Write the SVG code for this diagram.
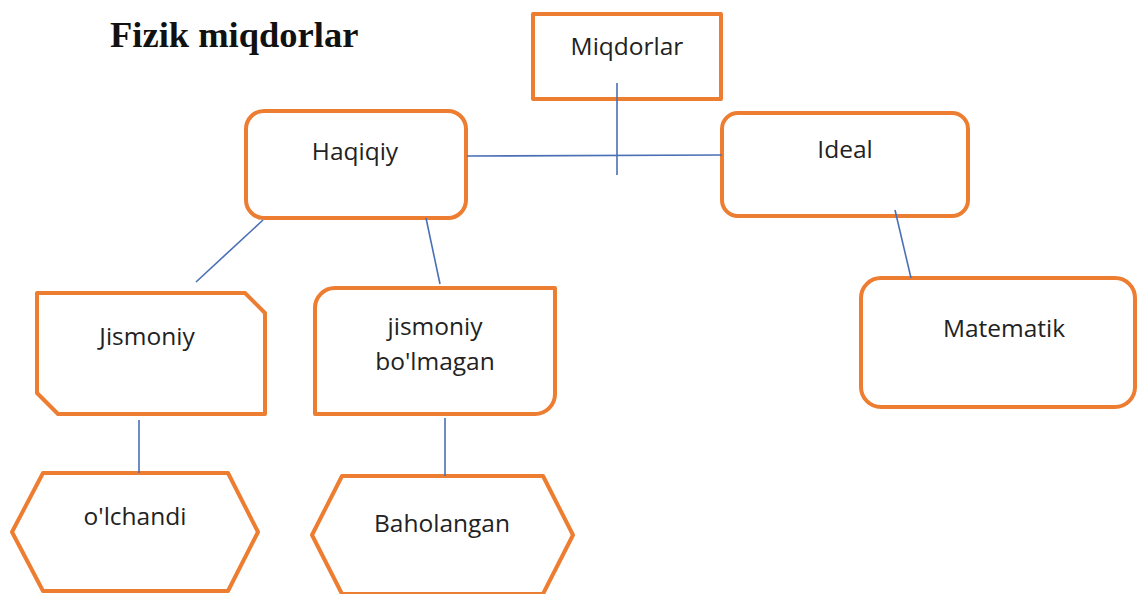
<svg xmlns="http://www.w3.org/2000/svg" width="1138" height="594" viewBox="0 0 1138 594">
<style>
.box{fill:#ffffff;stroke:#ED7D31;stroke-width:4;stroke-linejoin:round}
.lbl{font-family:"Open Sans","Liberation Sans",sans-serif;font-size:24.5px;fill:#222222;text-anchor:middle}
.title{font-family:"Liberation Serif","Times New Roman",serif;font-size:36.5px;font-weight:bold;fill:#111111}
.conn line{stroke:#4A6FB5;stroke-width:1.6}
</style>
<rect width="1138" height="594" fill="#ffffff"/>
<text class="title" x="110" y="47">Fizik miqdorlar</text>
<g id="miqdorlar">
<rect class="box" x="533" y="14" width="188" height="85"/>
<text class="lbl" x="627" y="55">Miqdorlar</text>
</g>
<g id="haqiqiy">
<rect class="box" x="246" y="111" width="220" height="107" rx="18"/>
<text class="lbl" x="355" y="160">Haqiqiy</text>
</g>
<g id="ideal">
<rect class="box" x="722" y="113" width="246" height="103" rx="16"/>
<text class="lbl" x="845" y="158">Ideal</text>
</g>
<g id="jismoniy">
<path class="box" d="M37,293 H245 L265,313 V414 H58 L37,393 Z"/>
<text class="lbl" x="147" y="345">Jismoniy</text>
</g>
<g id="jismoniy-bolmagan">
<path class="box" d="M335,288 H555 V394 A20,20 0 0 1 535,414 H315 V308 A20,20 0 0 1 335,288 Z"/>
<text class="lbl" x="435" y="335">jismoniy</text>
<text class="lbl" x="435" y="370">bo'lmagan</text>
</g>
<g id="matematik">
<rect class="box" x="861" y="278" width="274" height="129" rx="20"/>
<text class="lbl" x="1004" y="337">Matematik</text>
</g>
<g id="olchandi">
<path class="box" d="M43,473 H228 L258,532 L228,591 H43 L12,532 Z"/>
<text class="lbl" x="135" y="525">o'lchandi</text>
</g>
<g id="baholangan">
<path class="box" d="M342,476 H543 L573,535 L543,594 H342 L312,535 Z"/>
<text class="lbl" x="442" y="532">Baholangan</text>
</g>
<g id="connectors" class="conn">
<line x1="617" y1="83" x2="617" y2="175"/>
<line x1="467" y1="156" x2="722" y2="155"/>
<line x1="263" y1="220" x2="196" y2="282"/>
<line x1="426" y1="218" x2="440" y2="284"/>
<line x1="895" y1="210" x2="911" y2="278"/>
<line x1="139" y1="420" x2="139" y2="473"/>
<line x1="445" y1="418" x2="445" y2="476"/>
</g>
</svg>
